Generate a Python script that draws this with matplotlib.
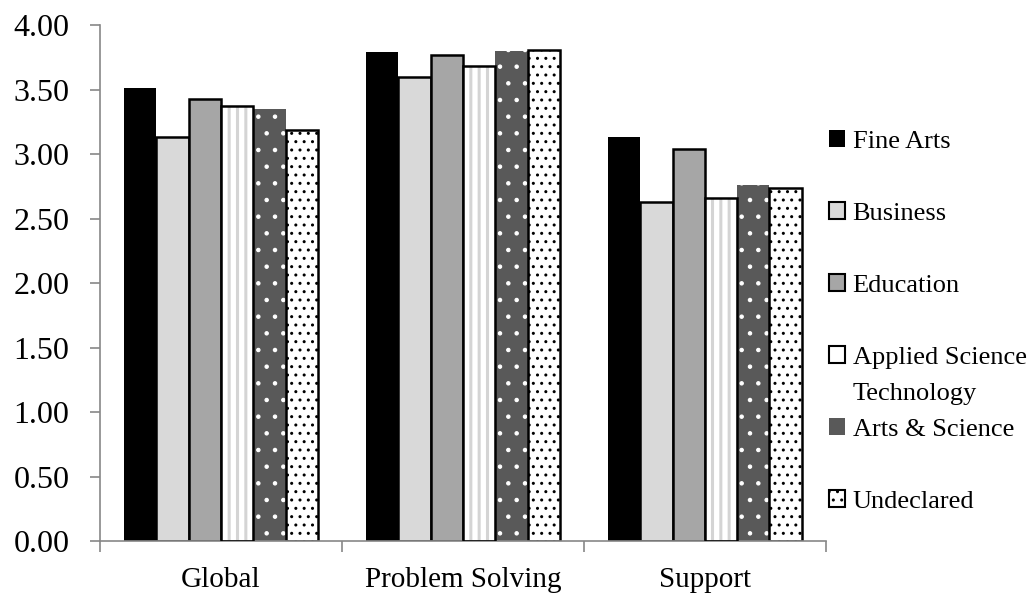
import matplotlib
matplotlib.use("Agg")
import matplotlib.pyplot as plt
import numpy as np
from matplotlib.patches import Patch
from matplotlib.transforms import IdentityTransform

# ---- data ----
categories = ["Global", "Problem Solving", "Support"]
series_names = ["Fine Arts", "Business", "Education", "Applied Science",
                "Arts & Science", "Undeclared"]
fine_arts = [3.51, 3.79, 3.13]
business = [3.13, 3.60, 2.63]
education = [3.43, 3.77, 3.04]
applied_science = [3.37, 3.68, 2.66]
arts_science = [3.35, 3.80, 2.76]
undeclared = [3.19, 3.81, 2.74]
y_ticks = [0.0, 0.5, 1.0, 1.5, 2.0, 2.5, 3.0, 3.5, 4.0]
series_values = [fine_arts, business, education, applied_science, arts_science, undeclared]

# ---- style ----
FONT = "Liberation Serif"
plt.rcParams["font.family"] = [FONT, "DejaVu Serif"]
GRAY = "#878787"

styles = [
    dict(face="black", edge="black", lw=0.0, hatch=None, hlw=None, border=None),
    dict(face="#d9d9d9", edge="black", lw=1.8, hatch=None, hlw=None, border=None),
    dict(face="#a6a6a6", edge="black", lw=1.8, hatch=None, hlw=None, border=None),
    dict(face="white", edge="#d4d4d4", lw=0.0, hatch="||", hlw=2.2, border="black"),
    dict(face="#595959", edge="white", lw=0.0, hatch=".", hlw=0.8, border=None),
    dict(face="white", edge="black", lw=1.8, hatch="..", hlw=1.0, border=None),
]

fig = plt.figure(figsize=(10.34, 6.0), dpi=100)
ax = fig.add_axes([0.0967, 0.0983, 0.7021, 0.86])

x = np.arange(len(categories))
n = len(series_values)
width = 0.8 / n

for i, (vals, st) in enumerate(zip(series_values, styles)):
    pos = x - 0.4 + width * (i + 0.5)
    if st["hlw"] is not None:
        plt.rcParams["hatch.linewidth"] = st["hlw"]
    bars = ax.bar(pos, vals, width, color=st["face"], edgecolor=st["edge"],
                  linewidth=st["lw"], hatch=st["hatch"], zorder=2)
    if st["hlw"] is not None:
        for p in bars:
            if hasattr(p, "set_hatch_linewidth"):
                p.set_hatch_linewidth(st["hlw"])
    if st["border"] is not None:
        ax.bar(pos, vals, width, fill=False, edgecolor=st["border"],
               linewidth=1.8, zorder=3)

ax.set_xlim(-0.5, len(categories) - 0.5)
ax.set_ylim(0, 4.0)
ax.set_yticks(y_ticks)
ax.set_yticklabels([f"{v:.2f}" for v in y_ticks])
ax.set_xticks(x)
ax.set_xticklabels(categories)
ax.set_xticks(np.arange(len(categories) + 1) - 0.5, minor=True)

for s in ["top", "right"]:
    ax.spines[s].set_visible(False)
for s in ["left", "bottom"]:
    ax.spines[s].set_color(GRAY)
    ax.spines[s].set_linewidth(1.2)

ax.tick_params(axis="y", which="major", length=7, width=1.2, color=GRAY,
               labelsize=23, pad=15, direction="out")
ax.tick_params(axis="x", which="major", length=0, labelsize=21, pad=19)
ax.tick_params(axis="x", which="minor", length=8, width=1.2, color=GRAY,
               direction="out")

# ---- legend ----
legend_labels = ["Fine Arts", "Business", "Education", "Applied Science",
                 "Arts & Science", "Undeclared"]
handles = [
    Patch(facecolor="black", edgecolor="black", linewidth=0),
    Patch(facecolor="#d9d9d9", edgecolor="black", linewidth=1.5),
    Patch(facecolor="#a6a6a6", edgecolor="black", linewidth=1.5),
    Patch(facecolor="white", edgecolor="black", linewidth=1.5),
    Patch(facecolor="#595959", edgecolor="#595959", linewidth=0),
    Patch(facecolor="white", edgecolor="black", linewidth=1.5, hatch=".."),
]
leg = ax.legend(handles, legend_labels, loc="center left",
                bbox_to_anchor=(0.8017, 0.464), bbox_transform=fig.transFigure,
                frameon=False, fontsize=19, handlelength=0.62, handleheight=0.62,
                handletextpad=0.28, labelspacing=1.86, borderpad=0,
                borderaxespad=0)

fig.canvas.draw()
t = leg.get_texts()[3]
bb = t.get_window_extent(renderer=fig.canvas.get_renderer())
fig.text(bb.x0, bb.y0 - 36, "Technology", fontsize=19,
         transform=IdentityTransform(), ha="left", va="bottom")

fig.savefig("out.png", dpi=100)
